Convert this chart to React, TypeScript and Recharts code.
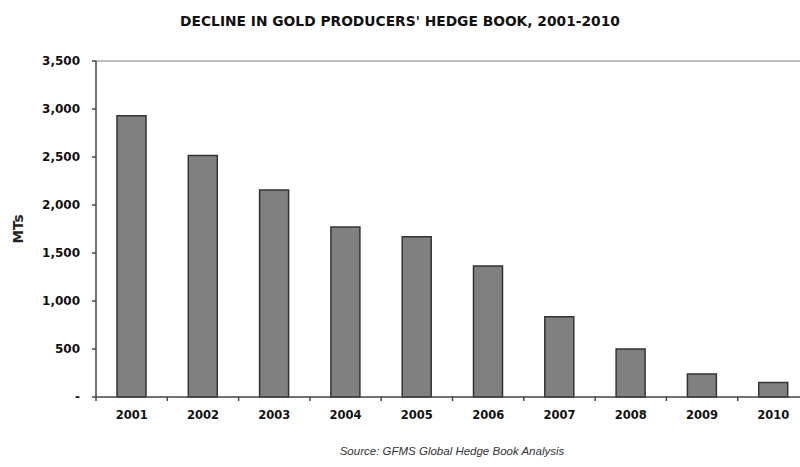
import React from 'react';
import { BarChart, Bar, XAxis, YAxis, ReferenceLine } from 'recharts';

const years = ['2001', '2002', '2003', '2004', '2005', '2006', '2007', '2008', '2009', '2010'];
const hedgeBook = [2930, 2515, 2155, 1770, 1670, 1365, 835, 500, 240, 150];
const yTicks = [0, 500, 1000, 1500, 2000, 2500, 3000, 3500];
const boundaryTicks = [0, 1, 2, 3, 4, 5, 6, 7, 8, 9, 10];

// pos = slot index, used only by the label-less axis that draws the
// axis line and the tick marks between the year categories
const data = years.map((year, i) => ({ year, value: hedgeBook[i], pos: i + 0.5 }));

const fmtY = (v: number) => (v === 0 ? '-' : v.toLocaleString('en-US'));

const axisFont = { fontFamily: 'DejaVu Sans', fontWeight: 'bold' as const };

const NoLabel = () => <g />;

export default function App() {
  return (
    <div style={{ position: 'absolute', left: 0, top: 0, width: 800, height: 467, overflow: 'hidden', background: '#fff' }}>
      <div
        style={{
          position: 'absolute', top: 13, left: 0, width: 800, textAlign: 'center',
          fontFamily: 'DejaVu Sans', fontWeight: 'bold', fontSize: 13.8, color: '#111',
        }}
      >
        DECLINE IN GOLD PRODUCERS' HEDGE BOOK, 2001-2010
      </div>
      <div
        style={{
          position: 'absolute', left: 18, top: 229, transform: 'translate(-50%, -50%) rotate(-90deg)',
          fontFamily: 'DejaVu Sans', fontWeight: 'bold', fontSize: 13.5, color: '#222', whiteSpace: 'nowrap',
        }}
      >
        MTs
      </div>
      <div
        style={{
          position: 'absolute', top: 445, left: 52, width: 800, textAlign: 'center',
          fontFamily: 'Liberation Sans', fontStyle: 'italic', fontSize: 11.5, color: '#333',
        }}
      >
        Source: GFMS Global Hedge Book Analysis
      </div>
      <BarChart width={820} height={467} data={data} margin={{ top: 61, right: 11, bottom: 39, left: 36 }}>
        <XAxis
          xAxisId={0}
          dataKey="pos"
          type="number"
          domain={[0, 10]}
          ticks={boundaryTicks}
          tick={<NoLabel />}
          axisLine={{ stroke: '#444', strokeWidth: 1.5 }}
          tickSize={4}
          height={1}
          stroke="#444"
          tickLine={{ stroke: '#444', strokeWidth: 1.5 }}
        />
        <XAxis
          xAxisId="cat"
          dataKey="year"
          tickLine={false}
          axisLine={false}
          tick={{ ...axisFont, fontSize: 11.5, fill: '#111' }}
          tickMargin={7}
          height={30}
        />
        <YAxis
          domain={[0, 3500]}
          ticks={yTicks}
          tickFormatter={fmtY}
          width={60}
          axisLine={{ stroke: '#444', strokeWidth: 1.5 }}
          tickLine={{ stroke: '#444', strokeWidth: 1.5 }}
          tickSize={4}
          tickMargin={12}
          tick={{ ...axisFont, fontSize: 12, fill: '#111' }}
        />
        <ReferenceLine xAxisId="cat" y={3500} stroke="#bdbdbd" strokeWidth={2} />
        <Bar
          xAxisId="cat"
          dataKey="value"
          fill="#808080"
          stroke="#333"
          strokeWidth={1.5}
          barSize={29}
          isAnimationActive={false}
        />
      </BarChart>
    </div>
  );
}
